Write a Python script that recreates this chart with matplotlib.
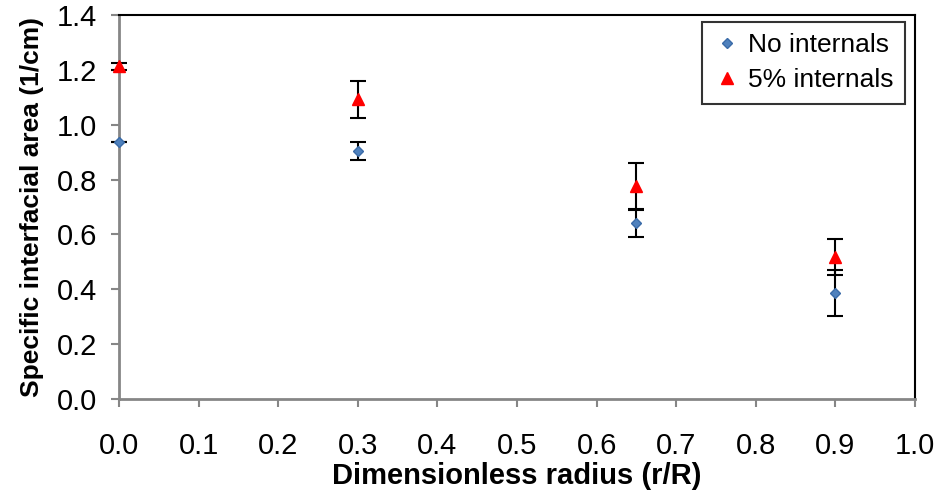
import matplotlib
matplotlib.use('Agg')
import matplotlib.pyplot as plt
from matplotlib.lines import Line2D

plt.rcParams['font.family'] = ['Liberation Sans', 'DejaVu Sans']

# data
radius = [0.0, 0.3, 0.65, 0.9]
no_internals = [0.937, 0.904, 0.643, 0.387]
no_internals_err = [0.0, 0.033, 0.051, 0.085]
internals_5 = [1.213, 1.093, 0.775, 0.519]
internals_5_err = [0.012, 0.068, 0.085, 0.066]

x_ticks = [0.0, 0.1, 0.2, 0.3, 0.4, 0.5, 0.6, 0.7, 0.8, 0.9, 1.0]
y_ticks = [0.0, 0.2, 0.4, 0.6, 0.8, 1.0, 1.2, 1.4]

fig = plt.figure(figsize=(9.39, 5.04), dpi=100)
ax = fig.add_axes([119 / 939, 105 / 504, (915 - 119) / 939, (399 - 15) / 504])

ax.errorbar(radius, no_internals, yerr=no_internals_err, fmt='D', color='#4F81BD',
            markersize=5, markeredgecolor='#3A6BA8', ecolor='black', elinewidth=1.5,
            capsize=5.5, capthick=1.5, clip_on=False, zorder=3)
ax.errorbar(radius, internals_5, yerr=internals_5_err, fmt='^', color='#FF0000',
            markersize=8, markeredgecolor='#FF0000', ecolor='black', elinewidth=1.5,
            capsize=5.5, capthick=1.5, clip_on=False, zorder=3)

ax.set_xlim(0, 1.0)
ax.set_ylim(0, 1.4)
ax.set_xticks(x_ticks)
ax.set_yticks(y_ticks)
ax.set_xticklabels(['%.1f' % t for t in x_ticks])
ax.set_yticklabels(['%.1f' % t for t in y_ticks])
ax.tick_params(axis='both', direction='out', length=6, width=1.5, color='#868686',
               labelsize=21)
ax.tick_params(axis='x', pad=18)
ax.tick_params(axis='y', pad=10)

for side in ['left', 'bottom']:
    ax.spines[side].set_color('#868686')
    ax.spines[side].set_linewidth(2)
for side in ['top', 'right']:
    ax.spines[side].set_color('black')
    ax.spines[side].set_linewidth(1.5)

ax.set_xlabel('Dimensionless radius (r/R)', fontsize=21, fontweight='bold', labelpad=1)
ax.set_ylabel('Specific interfacial area (1/cm)', fontsize=19, fontweight='bold', labelpad=9)

handles = [
    Line2D([], [], linestyle='none', marker='D', markersize=5, color='#4F81BD',
           markeredgecolor='#3A6BA8', label='No internals'),
    Line2D([], [], linestyle='none', marker='^', markersize=8, color='#FF0000',
           label='5% internals'),
]
leg = ax.legend(handles=handles, loc='upper right', fontsize=19, frameon=True,
                fancybox=False, handlelength=1.0, handletextpad=0.3, borderpad=0.45,
                bbox_to_anchor=(0.988, 0.983), labelspacing=0.4, borderaxespad=0)
leg.get_frame().set_edgecolor('black')
leg.get_frame().set_linewidth(1.5)

fig.savefig('out.png', dpi=100)
